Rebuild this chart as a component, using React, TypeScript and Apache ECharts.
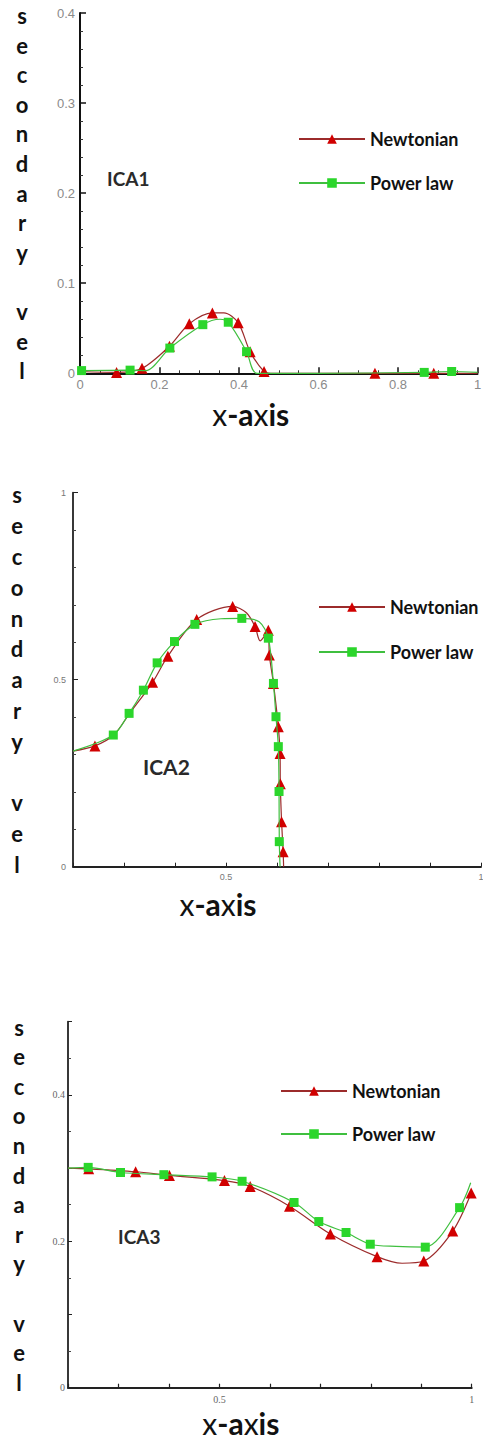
import React, { useEffect, useRef } from "react";
import * as echarts from "echarts";

const SERIES_NAMES = ["Newtonian", "Power law"];
const PANEL_LABELS = ["ICA1", "ICA2", "ICA3"];
const Y_TITLE = "secondary vel";
const X_TITLE_RICH = "{n|x}{b|-a}{n|x}{b|is}";

// ---- ICA1 ----
const ica1NewtonianMarkers = [
  [0.092, 0.001], [0.156, 0.0055], [0.225, 0.030], [0.275, 0.055], [0.333, 0.067],
  [0.398, 0.056], [0.428, 0.024], [0.463, 0.002], [0.742, 0.0], [0.890, 0.0],
];
const ica1NewtonianCurve = [[0.0, 0.002], [0.362, 0.067], [0.48, 0.0], [1.0, 0.0]];
const ica1PowerMarkers = [
  [0.004, 0.003], [0.126, 0.0035], [0.226, 0.028], [0.309, 0.054], [0.373, 0.0567],
  [0.419, 0.024], [0.866, 0.001], [0.935, 0.002],
];
const ica1PowerCurve = [[0.165, 0.003], [0.352, 0.060], [0.445, 0.0], [0.6, 0.0], [1.0, 0.001]];

// ---- ICA2 ----
const ica2NewtonianMarkers = [
  [0.243, 0.323], [0.356, 0.493], [0.386, 0.563], [0.4425, 0.661], [0.513, 0.696],
  [0.557, 0.642], [0.583, 0.632], [0.585, 0.566], [0.593, 0.490], [0.6026, 0.374],
  [0.606, 0.303], [0.6065, 0.222], [0.609, 0.120], [0.612, 0.040],
];
const ica2NewtonianCurve = [[0.2, 0.309], [0.28, 0.352], [0.31, 0.408], [0.54, 0.679], [0.567, 0.604], [0.613, 0.0]];
const ica2PowerMarkers = [
  [0.279, 0.352], [0.310, 0.410], [0.338, 0.472], [0.365, 0.545], [0.399, 0.602],
  [0.439, 0.648], [0.531, 0.664], [0.583, 0.611], [0.593, 0.490], [0.598, 0.401],
  [0.6026, 0.321], [0.604, 0.201], [0.6045, 0.067],
];
const ica2PowerCurve = [[0.2, 0.309], [0.49, 0.663], [0.565, 0.655], [0.606, 0.0]];

// ---- ICA3 ----
const ica3NewtonianMarkers = [
  [0.241, 0.299], [0.334, 0.295], [0.401, 0.290], [0.510, 0.283], [0.561, 0.275],
  [0.639, 0.248], [0.720, 0.210], [0.8125, 0.179], [0.905, 0.173], [0.9625, 0.214], [0.999, 0.266],
];
const ica3NewtonianCurve = [[0.2, 0.300], [0.862, 0.170]];
const ica3PowerMarkers = [
  [0.240, 0.301], [0.304, 0.294], [0.390, 0.291], [0.4855, 0.288], [0.545, 0.282],
  [0.648, 0.253], [0.697, 0.227], [0.751, 0.212], [0.799, 0.196], [0.908, 0.192], [0.976, 0.246],
];
const ica3PowerCurve = [[0.2, 0.300], [0.85, 0.193], [0.998, 0.280]];

const RED_MARK = "#d10000";
const RED_LINE = "#9c2b2b";
const GREEN_MARK = "#2bd62b";
const GREEN_LINE = "#3fbf3f";

function buildLine(markers: number[][], curve: number[][]) {
  const items = [
    ...markers.map((p) => ({ v: p, m: true })),
    ...curve.map((p) => ({ v: p, m: false })),
  ].sort((a, b) => a.v[0] - b.v[0] || b.v[1] - a.v[1]);
  return items.map((it) => (it.m ? { value: it.v } : { value: it.v, symbol: "none" }));
}

const near = (v: number, t: number) => Math.abs(v - t) < 1e-6;

export default function App() {
  const ref = useRef<HTMLDivElement>(null);

  useEffect(() => {
    if (!ref.current) return;
    const chart = echarts.init(ref.current, undefined, { renderer: "svg" });

    const yName = Y_TITLE.split("").join("\n");
    const xNameStyle = (padRight: number) => ({
      color: "#111",
      fontFamily: "Lato",
      fontSize: 30,
      padding: [0, padRight, 0, 0],
      rich: {
        n: { fontFamily: "Lato", fontSize: 30, fontWeight: "normal", color: "#111" },
        b: { fontFamily: "Lato", fontSize: 30, fontWeight: "bold", color: "#111" },
      },
    });
    const yNameStyle = (lh: number) => ({
      color: "#111",
      fontFamily: "Lato",
      fontWeight: "bold",
      fontSize: 22,
      lineHeight: lh,
      align: "center",
      verticalAlign: "middle",
    });

    const grids = [
      { left: 80, top: 13, width: 397.5, height: 360.3 },
      { left: 73, top: 492.7, width: 408, height: 374 },
      { left: 68, top: 1021.7, width: 403.7, height: 366 },
    ].map((g) => ({ ...g, containLabel: false, outerBoundsMode: "none" }));

    const labelP1 = { color: "#8a8a8a", fontSize: 13, fontFamily: "Liberation Sans" };
    const labelP2 = { color: "#777", fontSize: 9, fontFamily: "Liberation Sans" };
    const labelP3 = { color: "#666", fontSize: 10, fontFamily: "Liberation Serif" };

    const xAxis = [
      {
        type: "value", gridIndex: 0, min: 0, max: 1, interval: 0.2,
        axisLine: { show: true, onZero: false, lineStyle: { color: "#111", width: 2 } },
        axisTick: { show: true, inside: true, length: 6, lineStyle: { color: "#111", width: 1.5 } },
        minorTick: { show: true, splitNumber: 4, length: 3, lineStyle: { color: "#333", width: 1 } },
        axisLabel: { ...labelP1, margin: 5 },
        splitLine: { show: false },
        name: X_TITLE_RICH, nameLocation: "middle", nameGap: 26, nameTextStyle: xNameStyle(56),
      },
      {
        type: "value", gridIndex: 1, min: 0.2, max: 1, interval: 0.1,
        axisLine: { show: true, onZero: false, lineStyle: { color: "#222", width: 1.8 } },
        axisTick: { show: true, inside: true, length: 4, lineStyle: { color: "#222", width: 1 } },
        axisLabel: {
          ...labelP2, margin: 6, showMinLabel: true, showMaxLabel: true,
          formatter: (v: number) => (near(v, 0.5) ? "0.5" : near(v, 1) ? "1" : ""),
        },
        splitLine: { show: false },
        name: X_TITLE_RICH, nameLocation: "middle", nameGap: 22, nameTextStyle: xNameStyle(118),
      },
      {
        type: "value", gridIndex: 2, min: 0.2, max: 1, interval: 0.1,
        axisLine: { show: true, onZero: false, lineStyle: { color: "#222", width: 2 } },
        axisTick: { show: true, inside: true, length: 4, lineStyle: { color: "#222", width: 1.2 } },
        axisLabel: {
          ...labelP3, margin: 7, showMinLabel: true, showMaxLabel: true,
          formatter: (v: number) => (near(v, 0.5) ? "0.5" : near(v, 1) ? "1" : ""),
        },
        splitLine: { show: false },
        name: X_TITLE_RICH, nameLocation: "middle", nameGap: 20, nameTextStyle: xNameStyle(58),
      },
    ];

    const yAxis = [
      {
        type: "value", gridIndex: 0, min: 0, max: 0.4, interval: 0.1,
        axisLine: { show: true, onZero: false, lineStyle: { color: "#111", width: 2 } },
        axisTick: { show: true, inside: true, length: 6, lineStyle: { color: "#111", width: 1.5 } },
        minorTick: { show: true, splitNumber: 5, length: 3, lineStyle: { color: "#333", width: 1 } },
        axisLabel: { ...labelP1, margin: 5 },
        splitLine: { show: false },
        name: yName, nameLocation: "middle", nameRotate: 0, nameGap: 58, nameTextStyle: yNameStyle(29.6),
      },
      {
        type: "value", gridIndex: 1, min: 0, max: 1, interval: 0.5,
        axisLine: { show: true, onZero: false, lineStyle: { color: "#222", width: 1.8 } },
        axisTick: { show: true, inside: true, length: 5, lineStyle: { color: "#222", width: 1 } },
        minorTick: { show: true, splitNumber: 5, length: 3, lineStyle: { color: "#444", width: 1 } },
        axisLabel: { ...labelP2, margin: 7 },
        splitLine: { show: false },
        name: yName, nameLocation: "middle", nameRotate: 0, nameGap: 56, nameTextStyle: yNameStyle(30.8),
      },
      {
        type: "value", gridIndex: 2, min: 0, max: 0.5, interval: 0.1,
        axisLine: { show: true, onZero: false, lineStyle: { color: "#222", width: 1.8 } },
        axisTick: { show: true, inside: true, length: 4, lineStyle: { color: "#222", width: 1 } },
        minorTick: { show: true, splitNumber: 2, length: 3, lineStyle: { color: "#444", width: 1 } },
        axisLabel: {
          ...labelP3, margin: 3,
          formatter: (v: number) => (near(v, 0) ? "0" : near(v, 0.2) ? "0.2" : near(v, 0.4) ? "0.4" : ""),
        },
        splitLine: { show: false },
        name: yName, nameLocation: "middle", nameRotate: 0, nameGap: 49, nameTextStyle: yNameStyle(29.6),
      },
    ];

    const panels = [
      [ica1NewtonianMarkers, ica1NewtonianCurve, ica1PowerMarkers, ica1PowerCurve],
      [ica2NewtonianMarkers, ica2NewtonianCurve, ica2PowerMarkers, ica2PowerCurve],
      [ica3NewtonianMarkers, ica3NewtonianCurve, ica3PowerMarkers, ica3PowerCurve],
    ];

    const series: any[] = [];
    panels.forEach(([nm, nc, pm, pc], i) => {
      series.push({
        type: "line", name: SERIES_NAMES[0], xAxisIndex: i, yAxisIndex: i,
        data: buildLine(nm, nc), smooth: 0.3, symbol: "triangle", symbolSize: 11,
        showSymbol: true, showAllSymbol: true, clip: false,
        itemStyle: { color: RED_MARK }, lineStyle: { color: RED_LINE, width: 1.2 }, z: 3,
      });
      series.push({
        type: "line", name: SERIES_NAMES[1], xAxisIndex: i, yAxisIndex: i,
        data: buildLine(pm, pc), smooth: 0.3, symbol: "rect", symbolSize: 9,
        showSymbol: true, showAllSymbol: true, clip: false,
        itemStyle: { color: GREEN_MARK }, lineStyle: { color: GREEN_LINE, width: 1.2 }, z: 4,
      });
    });

    const legendBase = {
      orient: "vertical", itemWidth: 66, itemHeight: 12, data: SERIES_NAMES,
      textStyle: { fontFamily: "Lato", fontWeight: "bold", fontSize: 18, color: "#111", lineHeight: 20 },
      selectedMode: false,
    };
    const legend = [
      { ...legendBase, left: 293, top: 124, itemGap: 24 },
      { ...legendBase, left: 313, top: 592, itemGap: 25 },
      { ...legendBase, left: 275, top: 1076, itemGap: 23 },
    ];

    const labelPos = [
      { x: 107, y: 178, size: 19 },
      { x: 143, y: 766, size: 21 },
      { x: 118, y: 1236, size: 19 },
    ];
    const graphic = PANEL_LABELS.map((t, i) => ({
      type: "text",
      x: labelPos[i].x,
      y: labelPos[i].y,
      style: {
        text: t,
        fontFamily: "Lato",
        fontWeight: "bold",
        fontSize: labelPos[i].size,
        fill: "#2a2a2a",
        verticalAlign: "middle",
      },
    }));

    chart.setOption({
      animation: false,
      backgroundColor: "#ffffff",
      grid: grids,
      xAxis,
      yAxis,
      legend,
      series,
      graphic,
    } as any);

    return () => chart.dispose();
  }, []);

  return (
    <div
      ref={ref}
      style={{ position: "absolute", left: 0, top: 0, width: 483, height: 1445, background: "#fff" }}
    />
  );
}
